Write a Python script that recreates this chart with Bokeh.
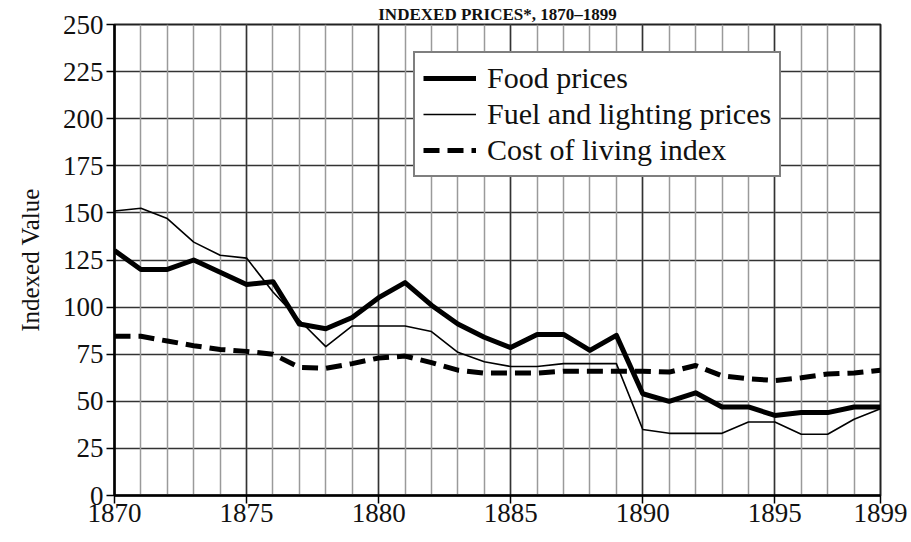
from bokeh.plotting import figure
from bokeh.models import Range1d, FixedTicker, Grid, Legend, LegendItem
from bokeh.embed import file_html
from bokeh.resources import INLINE

years = list(range(1870, 1900))
food = [130, 120, 120, 125, 118.5, 112, 113.5, 91, 88.5, 94.5, 105, 113, 101, 91, 84, 78.5,
        85.5, 85.5, 77, 85, 54, 50, 54.5, 47, 47, 42.5, 44, 44, 47, 47]
fuel = [151, 152.5, 147, 134.5, 127.5, 126, 108, 93, 79, 90, 90, 90, 87, 76, 71, 68.5,
        68.5, 70, 70, 70, 35, 33, 33, 33, 39, 39, 32.5, 32.5, 40.5, 46]
living = [84.5, 84.5, 82, 79.5, 77.5, 76.5, 75, 68, 67.5, 70, 73, 74, 70.5, 66.5, 65, 65,
          65, 66, 66, 66, 66, 65.5, 69, 63.5, 62, 61, 62.5, 64.5, 65, 66.5]
x_ticks = [1870, 1875, 1880, 1885, 1890, 1895, 1899]
y_ticks = [0, 25, 50, 75, 100, 125, 150, 175, 200, 225, 250]
title_text = "INDEXED PRICES*, 1870\u20131899"
y_label = "Indexed Value"
names = ["Food prices", "Fuel and lighting prices", "Cost of living index"]

FONT = "Liberation Serif"

p = figure(width=911, height=542, output_backend="svg", toolbar_location=None,
           x_range=Range1d(1870, 1899), y_range=Range1d(0, 250),
           min_border_left=114, min_border_right=31, min_border_top=24, min_border_bottom=47)
p.background_fill_color = "white"
p.border_fill_color = "white"
p.outline_line_color = "#222222"
p.outline_line_width = 2

p.title.text = title_text
p.title.text_font = FONT
p.title.text_font_size = "17px"
p.title.text_font_style = "bold"
p.title.text_color = "#111111"
p.title.align = "center"
p.title.standoff = 2

# grids
p.xgrid.visible = False
p.ygrid.ticker = FixedTicker(ticks=y_ticks)
p.ygrid.grid_line_color = "#333333"
p.ygrid.grid_line_width = 1.6
minor_grid = Grid(dimension=0, ticker=FixedTicker(ticks=years), grid_line_color="#9a9a9a",
                  grid_line_width=1.5)
major_grid = Grid(dimension=0, ticker=FixedTicker(ticks=[1875, 1880, 1885, 1890, 1895, 1899]),
                  grid_line_color="#333333", grid_line_width=1.5)
p.add_layout(minor_grid)
p.add_layout(major_grid)

# axes
p.xaxis.ticker = FixedTicker(ticks=x_ticks)
p.yaxis.ticker = FixedTicker(ticks=y_ticks)
for ax in (p.xaxis[0], p.yaxis[0]):
    ax.axis_line_color = "black"
    ax.axis_line_width = 2.5
    ax.major_tick_line_color = "black"
    ax.major_tick_line_width = 1.5
    ax.major_tick_in = 0
    ax.minor_tick_line_color = None
    ax.major_label_text_font = FONT
    ax.major_label_text_color = "#111111"
    ax.major_label_text_font_size = "27px"
p.xaxis.major_tick_out = 8
p.xaxis.major_label_standoff = 0
p.yaxis.major_tick_out = 8
p.yaxis.major_label_standoff = 3
p.yaxis.axis_label = y_label
p.yaxis.axis_label_text_font = FONT
p.yaxis.axis_label_text_font_size = "25px"
p.yaxis.axis_label_text_font_style = "normal"
p.yaxis.axis_label_text_color = "#111111"
p.yaxis.axis_label_standoff = 16

r_food = p.line(years, food, line_color="black", line_width=5, line_join="round")
r_fuel = p.line(years, fuel, line_color="black", line_width=1.6, line_join="round")
r_living = p.line(years, living, line_color="black", line_width=5, line_dash="16 8",
                  line_join="round")

legend = Legend(items=[LegendItem(label=names[0], renderers=[r_food]),
                       LegendItem(label=names[1], renderers=[r_fuel]),
                       LegendItem(label=names[2], renderers=[r_living])],
                location=(299, 318))
legend.label_text_font = FONT
legend.label_text_font_size = "30px"
legend.label_text_color = "#111111"
legend.glyph_width = 53
legend.glyph_height = 30
legend.label_height = 30
legend.spacing = 2
legend.padding = 8
legend.margin = 0
legend.border_line_color = "black"
legend.border_line_width = 2
legend.background_fill_color = "white"
legend.background_fill_alpha = 1
legend.label_standoff = 11
p.add_layout(legend, "center")

open("out.html", "w").write(file_html(p, INLINE))
